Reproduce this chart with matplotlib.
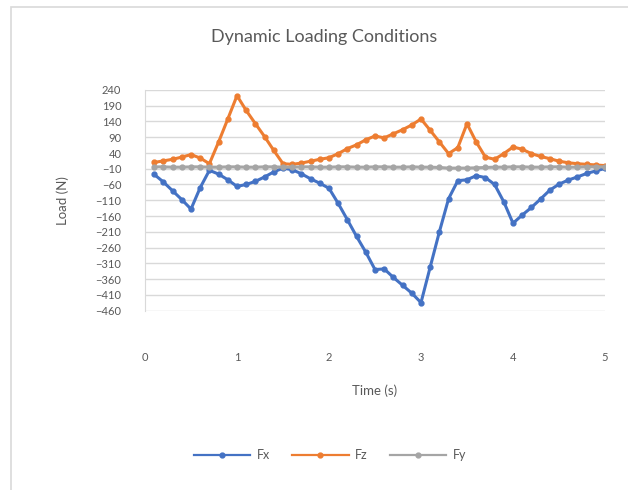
import matplotlib
matplotlib.use("Agg")
import matplotlib.pyplot as plt
from matplotlib.patches import Rectangle

plt.rcParams['font.family'] = ['Lato', 'DejaVu Sans']

# time steps of the load history (s)
time_s = [0.1, 0.2, 0.3, 0.4, 0.5, 0.6, 0.7, 0.8, 0.9, 1.0,
          1.1, 1.2, 1.3, 1.4, 1.5, 1.6, 1.7, 1.8, 1.9, 2.0,
          2.1, 2.2, 2.3, 2.4, 2.5, 2.6, 2.7, 2.8, 2.9, 3.0,
          3.1, 3.2, 3.3, 3.4, 3.5, 3.6, 3.7, 3.8, 3.9, 4.0,
          4.1, 4.2, 4.3, 4.4, 4.5, 4.6, 4.7, 4.8, 4.9, 5.0]

fx = [-28, -52, -80, -108, -138, -70, -15, -27, -45, -66,
      -60, -50, -36, -20, -8, -13, -26, -42, -56, -72,
      -120, -172, -225, -275, -330, -328, -355, -380, -405, -435,
      -322, -210, -105, -48, -45, -32, -38, -60, -115, -183,
      -157, -133, -106, -78, -59, -46, -36, -25, -17, -9]

fz = [10, 15, 20, 27, 35, 24, 6, 75, 148, 222,
      175, 133, 92, 48, 6, 4, 8, 14, 20, 25,
      38, 54, 66, 82, 94, 88, 101, 114, 129, 148,
      112, 75, 38, 57, 133, 75, 27, 20, 38, 59,
      52, 38, 29, 22, 14, 9, 6, 4, 2, 0]

fy = [-4, -4, -5, -5, -4, -4, -5, -5, -4, -4,
      -5, -5, -4, -4, -5, -5, -4, -4, -5, -5,
      -4, -4, -5, -5, -4, -4, -5, -5, -4, -5,
      -5, -6, -8, -8, -8, -7, -6, -5, -5, -4,
      -4, -5, -5, -4, -4, -5, -5, -4, -4, -4]

yticks = list(range(-460, 241, 50))
xticks = [0, 1, 2, 3, 4, 5]

txt = '#595959'
grid = '#d9d9d9'

fig = plt.figure(figsize=(6.28, 4.9), dpi=100)
# chart border (extends past the screenshot edge)
fig.patches.append(Rectangle((11 / 628, -0.1), 1.2, 1 - 7 / 490 + 0.1,
                             transform=fig.transFigure, fill=False,
                             edgecolor=grid, linewidth=1.2))

ax = fig.add_axes([145 / 628, 1 - 310.5 / 490, 460 / 628, 220.5 / 490])

ax.plot(time_s, fx, color='#4472C4', lw=2.2, marker='o', ms=3.5, label='Fx')
ax.plot(time_s, fz, color='#ED7D31', lw=2.2, marker='o', ms=3.5, label='Fz')
ax.plot(time_s, fy, color='#A5A5A5', lw=2.2, marker='o', ms=3.5, label='Fy')

ax.set_xlim(0, 5)
ax.set_ylim(-460, 240)
ax.set_yticks(yticks)
ax.set_xticks(xticks)
ax.yaxis.grid(True, color=grid, lw=1)
ax.set_axisbelow(True)
for s in ['top', 'right', 'bottom']:
    ax.spines[s].set_visible(False)
ax.spines['left'].set_color(grid)
ax.tick_params(axis='both', length=0, labelsize=8, colors=txt)
ax.tick_params(axis='y', pad=17)
ax.tick_params(axis='x', pad=30)

ax.set_xlabel('Time (s)', fontsize=9.5, color=txt, labelpad=15)
ax.set_ylabel('Load (N)', fontsize=9.5, color=txt, labelpad=19)

fig.text(324 / 628, 1 - 37 / 490, 'Dynamic Loading Conditions',
         ha='center', va='center', fontsize=13, color=txt)

leg = fig.legend(loc='center', bbox_to_anchor=(330 / 628, 1 - 455 / 490), ncol=3,
                 frameon=False, fontsize=9, labelcolor=txt, handlelength=4.5,
                 handletextpad=0.5, columnspacing=1.8)
for h in leg.legend_handles:
    h.set_linewidth(1.6)

fig.savefig('out.png', dpi=100)
